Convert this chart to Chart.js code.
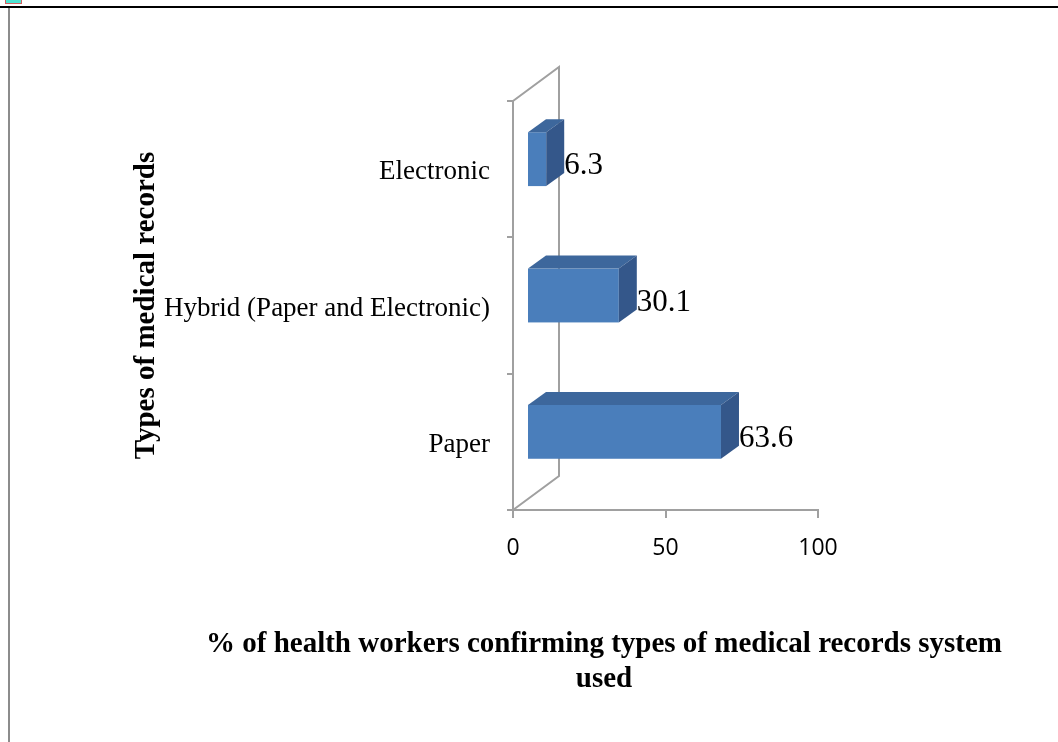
<!DOCTYPE html>
<html>
<head>
<meta charset="utf-8">
<script src="https://cdn.jsdelivr.net/npm/chart.js@4.4.1/dist/chart.umd.min.js"></script>
<style>
  html, body { margin: 0; padding: 0; background: #fff; }
  #wrap { position: relative; width: 1058px; height: 742px; overflow: hidden; }
  #topLine { position: absolute; left: 0; top: 6px; width: 1058px; height: 2px; background: #000; }
  #leftLine { position: absolute; left: 8px; top: 8px; width: 2px; height: 734px; background: #8c8c8c; }
  #marker { position: absolute; left: 5px; top: -2px; width: 15px; height: 4px; background: #4fe3d2; border: 1px solid #d06060; }
  canvas { position: absolute; left: 0; top: 0; }
</style>
</head>
<body>
<div id="wrap">
  <canvas id="recordsChart" width="1058" height="742"></canvas>
  <div id="topLine"></div>
  <div id="leftLine"></div>
  <div id="marker"></div>
</div>
<script>
const categories = ["Electronic", "Hybrid (Paper and Electronic)", "Paper"];
const percentages = [6.3, 30.1, 63.6];
const xTicks = [0, 50, 100];
const yTitle = "Types of medical records";
const xTitle = ["% of health workers confirming types of medical records system", "used"];

const wallColor = "#a0a0a0";
const depth = { x: 46, y: -34 };      // depth of the 3D walls
const barShift = { x: 14, y: -10 };   // bars sit part-way into the depth
const barDepth = { x: 18, y: -13 };

// 3D walls, bars and value labels
const threeD = {
  id: "threeD",
  beforeDatasetsDraw(chart) {
    const { ctx, chartArea: a } = chart;
    ctx.save();
    ctx.strokeStyle = wallColor;
    ctx.lineWidth = 2;
    ctx.beginPath();
    ctx.moveTo(a.left, a.top);
    ctx.lineTo(a.left + depth.x, a.top + depth.y);
    ctx.lineTo(a.left + depth.x, a.bottom + depth.y);
    ctx.lineTo(a.left, a.bottom);
    ctx.stroke();
    ctx.restore();
  },
  afterDatasetsDraw(chart) {
    const { ctx } = chart;
    const meta = chart.getDatasetMeta(0);
    ctx.save();
    meta.data.forEach((bar, i) => {
      const p = bar.getProps(["x", "y", "base", "height"], true);
      const x0 = p.base + barShift.x;
      const x1 = p.x + barShift.x;
      const top = p.y - p.height / 2 + barShift.y;
      const bottom = p.y + p.height / 2 + barShift.y;

      // front
      ctx.fillStyle = "#4a7ebb";
      ctx.fillRect(x0, top, x1 - x0, bottom - top);
      // top
      ctx.fillStyle = "#3d679c";
      ctx.beginPath();
      ctx.moveTo(x0, top);
      ctx.lineTo(x1, top);
      ctx.lineTo(x1 + barDepth.x, top + barDepth.y);
      ctx.lineTo(x0 + barDepth.x, top + barDepth.y);
      ctx.closePath();
      ctx.fill();
      // side
      ctx.fillStyle = "#34578a";
      ctx.beginPath();
      ctx.moveTo(x1, top);
      ctx.lineTo(x1 + barDepth.x, top + barDepth.y);
      ctx.lineTo(x1 + barDepth.x, bottom + barDepth.y);
      ctx.lineTo(x1, bottom);
      ctx.closePath();
      ctx.fill();

      // value label
      ctx.fillStyle = "#000";
      ctx.font = "31px 'Liberation Serif', 'Times New Roman', serif";
      ctx.textAlign = "left";
      ctx.textBaseline = "middle";
      ctx.fillText(String(percentages[i]), x1 + barDepth.x, (top + bottom) / 2 + 7);
    });
    ctx.restore();
  },
  afterDraw(chart) {
    const { ctx } = chart;
    ctx.save();
    ctx.fillStyle = "#000";
    ctx.font = "bold 29px 'Liberation Serif', 'Times New Roman', serif";
    ctx.textAlign = "center";
    ctx.textBaseline = "middle";
    xTitle.forEach((line, i) => ctx.fillText(line, 604, 645 + i * 35));
    ctx.restore();
  }
};

new Chart(document.getElementById("recordsChart"), {
  type: "bar",
  data: {
    labels: categories,
    datasets: [{
      data: percentages,
      backgroundColor: "rgba(0,0,0,0)",
      categoryPercentage: 1,
      barPercentage: 0.395
    }]
  },
  options: {
    indexAxis: "y",
    responsive: false,
    animation: false,
    layout: { padding: { left: 0, right: 240, top: 101, bottom: 0 } },
    plugins: {
      legend: { display: false },
      tooltip: { enabled: false }
    },
    scales: {
      x: {
        min: 0,
        max: 100,
        afterFit(scale) { scale.height = 232; },
        afterBuildTicks(scale) { scale.ticks = xTicks.map(v => ({ value: v })); },
        border: { color: wallColor, width: 2 },
        grid: { drawOnChartArea: false, color: wallColor, lineWidth: 2, tickLength: 8 },
        ticks: {
          color: "#000",
          padding: 17,
          font: { family: "'Open Sans', sans-serif", size: 23 }
        }
      },
      y: {
        afterFit(scale) { scale.width = 513; },
        border: { color: wallColor, width: 2 },
        grid: { drawOnChartArea: false, offset: true, color: wallColor, lineWidth: 2, tickLength: 6 },
        ticks: {
          color: "#000",
          padding: 17,
          labelOffset: 3,
          font: { family: "'Liberation Serif', 'Times New Roman', serif", size: 27 }
        },
        title: {
          display: true,
          text: yTitle,
          color: "#000",
          padding: { top: 129, bottom: 0 },
          font: { family: "'Liberation Serif', 'Times New Roman', serif", size: 29, weight: "bold" }
        }
      }
    }
  },
  plugins: [threeD]
});
</script>
</body>
</html>
